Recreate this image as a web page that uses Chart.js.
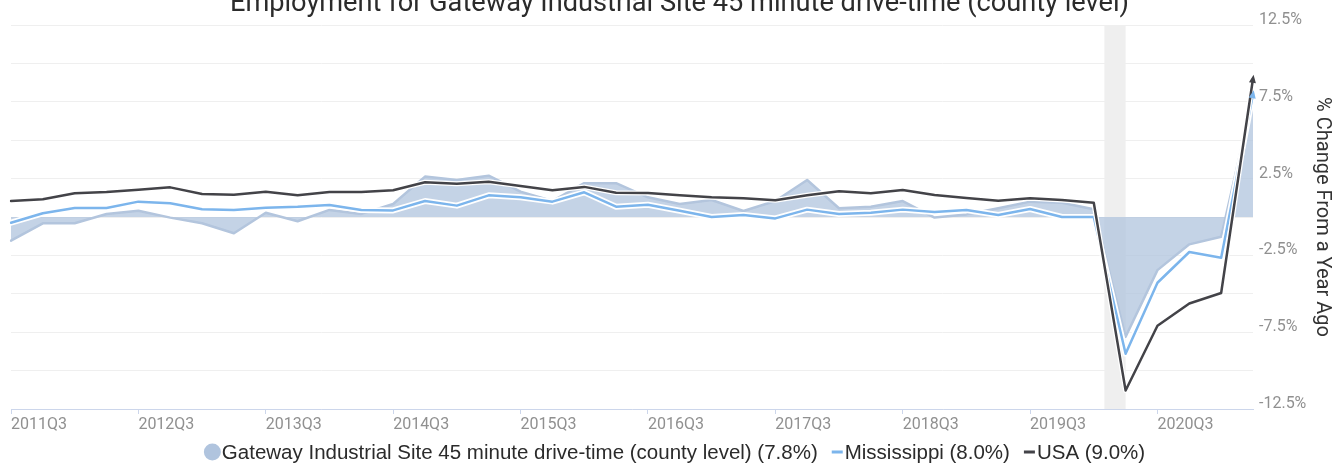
<!DOCTYPE html>
<html>
<head>
<meta charset="utf-8">
<title>Employment chart</title>
<script src="https://cdn.jsdelivr.net/npm/chart.js@4.4.1/dist/chart.umd.min.js"></script>
<style>
  html, body { margin: 0; padding: 0; background: #fff; }
  #wrap { width: 1335px; height: 466px; position: relative; }
</style>
</head>
<body>
<div id="wrap"><canvas id="chart"></canvas></div>
<script>
const chartTitle = 'Employment for Gateway Industrial Site 45 minute drive-time (county level)'
const axisTitle = '% Change From a Year Ago'

const quarters = [
  '2011Q3', '2011Q4', '2012Q1', '2012Q2', '2012Q3', '2012Q4', '2013Q1', '2013Q2',
  '2013Q3', '2013Q4', '2014Q1', '2014Q2', '2014Q3', '2014Q4', '2015Q1', '2015Q2',
  '2015Q3', '2015Q4', '2016Q1', '2016Q2', '2016Q3', '2016Q4', '2017Q1', '2017Q2',
  '2017Q3', '2017Q4', '2018Q1', '2018Q2', '2018Q3', '2018Q4', '2019Q1', '2019Q2',
  '2019Q3', '2019Q4', '2020Q1', '2020Q2', '2020Q3', '2020Q4', '2021Q1', '2021Q2'
]

const gatewayName = 'Gateway Industrial Site 45 minute drive-time (county level)'
const gateway = [
  -1.54, -0.41, -0.41, 0.20, 0.41, -0.04, -0.41, -1.06, 0.28, -0.28,
  0.46, 0.20, 0.85, 2.63, 2.41, 2.69, 1.65, 1.04, 2.20, 2.20,
  1.28, 0.85, 1.11, 0.39, 1.04, 2.41, 0.57, 0.67, 1.04, -0.04,
  0.17, 0.57, 1.00, 0.93, 0.50, -7.80, -3.46, -1.78, -1.28, 7.80
]

const mississippiName = 'Mississippi'
const mississippi = [
  -0.37, 0.24, 0.59, 0.59, 1.00, 0.89, 0.50, 0.46, 0.61, 0.67,
  0.78, 0.46, 0.43, 1.04, 0.74, 1.41, 1.28, 1.00, 1.61, 0.67,
  0.80, 0.41, 0.00, 0.13, -0.09, 0.48, 0.20, 0.28, 0.48, 0.33,
  0.46, 0.13, 0.52, 0.00, 0.00, -8.90, -4.28, -2.28, -2.65, 8.00
]

const usaName = 'USA'
const usa = [
  1.04, 1.15, 1.54, 1.63, 1.78, 1.93, 1.50, 1.45, 1.65, 1.41,
  1.63, 1.63, 1.74, 2.26, 2.17, 2.30, 2.02, 1.74, 1.96, 1.58,
  1.56, 1.41, 1.28, 1.22, 1.09, 1.41, 1.67, 1.54, 1.76, 1.43,
  1.24, 1.06, 1.22, 1.11, 0.93, -11.30, -7.08, -5.63, -4.95, 9.00
]

/* recession shading, months */
const recession = ['2020-02', '2020-04']

const colors = {
  gatewayFill: 'rgba(176,196,222,0.75)',
  gatewayLine: '#b3c5dd',
  gatewayDot: '#b0c4de',
  mississippi: '#7cb5ec',
  usa: '#434348'
}

function monthToIndex(m) {
  const [y, mo] = m.split('-').map(Number)
  const q = Math.floor((mo - 1) / 3) + 1
  return quarters.indexOf(y + 'Q' + q) + ((mo - 1) % 3) / 3
}

const last = arr => arr[arr.length - 1].toFixed(1)

const legendItems = [
  { text: `${gatewayName} (${last(gateway)}%)`, color: colors.gatewayDot, type: 'circle' },
  { text: `${mississippiName} (${last(mississippi)}%)`, color: colors.mississippi, type: 'dash' },
  { text: `${usaName} (${last(usa)}%)`, color: colors.usa, type: 'dash' }
]

const decor = {
  id: 'decor',
  beforeDatasetsDraw(chart) {
    const { ctx, chartArea, scales } = chart
    const x1 = scales.x.getPixelForValue(monthToIndex(recession[0]))
    const x2 = scales.x.getPixelForValue(monthToIndex(recession[1]))
    ctx.save()
    ctx.fillStyle = '#efefef'
    ctx.fillRect(x1, chartArea.top, x2 - x1, chartArea.bottom - chartArea.top)
    ctx.restore()
  },
  afterDatasetsDraw(chart) {
    const ctx = chart.ctx
    /* arrow heads at the end of the lines */
    chart.data.datasets.forEach((ds, i) => {
      if (!ds.arrow) return
      const pts = chart.getDatasetMeta(i).data
      const a = pts[pts.length - 2], b = pts[pts.length - 1]
      const ang = Math.atan2(b.y - a.y, b.x - a.x)
      ctx.save()
      ctx.translate(b.x, b.y)
      ctx.rotate(ang)
      ctx.fillStyle = ds.borderColor
      ctx.beginPath()
      ctx.moveTo(4, 0)
      ctx.lineTo(-4, -3.5)
      ctx.lineTo(-4, 3.5)
      ctx.closePath()
      ctx.fill()
      ctx.restore()
    })
  },
  afterDraw(chart) {
    const ctx = chart.ctx
    ctx.save()
    // title
    ctx.font = '27.2px Roboto'
    ctx.fillStyle = '#2b2b2b'
    ctx.textAlign = 'center'
    ctx.textBaseline = 'alphabetic'
    ctx.fillText(chartTitle, 679.5, 11)

    // legend
    ctx.font = '20.5px "Liberation Sans", Arial, sans-serif'
    ctx.textAlign = 'left'
    ctx.textBaseline = 'middle'
    const y = 452
    const widths = legendItems.map(it => (it.type === 'circle' ? 18 : 13) + ctx.measureText(it.text).width)
    const gap = 14
    const total = widths.reduce((s, w) => s + w, 0) + gap * (legendItems.length - 1)
    let x = 674.5 - total / 2
    legendItems.forEach((it, i) => {
      ctx.fillStyle = it.color
      if (it.type === 'circle') {
        ctx.beginPath()
        ctx.arc(x + 8.5, y, 8.5, 0, Math.PI * 2)
        ctx.fill()
        ctx.fillStyle = '#2b2b2b'
        ctx.fillText(it.text, x + 18, y + 1)
      } else {
        ctx.fillRect(x, y - 1.5, 11, 3)
        ctx.fillStyle = '#2b2b2b'
        ctx.fillText(it.text, x + 13, y + 1)
      }
      x += widths[i] + gap
    })
    ctx.restore()
  }
}

const canvas = document.getElementById('chart')
const chart = new Chart(canvas, {
  type: 'line',
  data: {
    labels: quarters,
    datasets: [
      {
        label: usaName,
        data: usa,
        borderColor: colors.usa,
        borderWidth: 2.5,
        arrow: true,
        order: 0
      },
      {
        label: 'usa-halo',
        data: usa,
        borderColor: '#ffffff',
        borderWidth: 5,
        order: 1
      },
      {
        label: mississippiName,
        data: mississippi,
        borderColor: colors.mississippi,
        borderWidth: 2.5,
        arrow: true,
        order: 2
      },
      {
        label: 'mississippi-halo',
        data: mississippi,
        borderColor: '#ffffff',
        borderWidth: 6,
        order: 3
      },
      {
        label: gatewayName,
        data: gateway,
        borderColor: colors.gatewayLine,
        backgroundColor: colors.gatewayFill,
        borderWidth: 2.5,
        fill: 'origin',
        order: 4
      }
    ]
  },
  options: {
    responsive: true,
    maintainAspectRatio: false,
    animation: false,
    devicePixelRatio: 1,
    elements: {
      point: { radius: 0, hoverRadius: 0 },
      line: { tension: 0, borderJoinStyle: 'round', borderCapStyle: 'round' }
    },
    layout: {
      padding: { top: 25, left: 11, right: 0, bottom: 27 }
    },
    plugins: {
      legend: { display: false },
      title: { display: false },
      tooltip: { enabled: false }
    },
    scales: {
      x: {
        offset: false,
        afterFit: scale => { scale.height = 30 },
        grid: {
          drawOnChartArea: false,
          tickLength: 5,
          color: ctx => ctx.index % 4 === 0 ? '#ccd6eb' : 'rgba(0,0,0,0)'
        },
        border: { color: '#ccd6eb', width: 1 },
        ticks: {
          autoSkip: false,
          maxRotation: 0,
          align: 'start',
          padding: 1,
          color: '#909090',
          font: { family: 'Roboto', size: 16 },
          callback: function (value, index) {
            return index % 4 === 0 ? this.getLabelForValue(value) : ''
          }
        }
      },
      y: {
        position: 'right',
        min: -12.5,
        max: 12.5,
        afterFit: scale => { scale.width = 82 },
        grid: { color: '#efefef', drawTicks: false },
        border: { display: false },
        ticks: {
          stepSize: 2.5,
          padding: 6,
          labelOffset: -5,
          color: '#909090',
          font: { family: 'Roboto', size: 16 },
          callback: v => Math.abs(Math.round(v / 2.5)) % 2 === 1 ? v.toFixed(1) + '%' : ''
        },
        title: {
          display: true,
          text: axisTitle,
          color: '#333333',
          font: { family: 'Roboto', size: 20 },
          padding: { top: 1, bottom: 0 }
        }
      }
    }
  },
  plugins: [decor]
})
</script>
</body>
</html>
